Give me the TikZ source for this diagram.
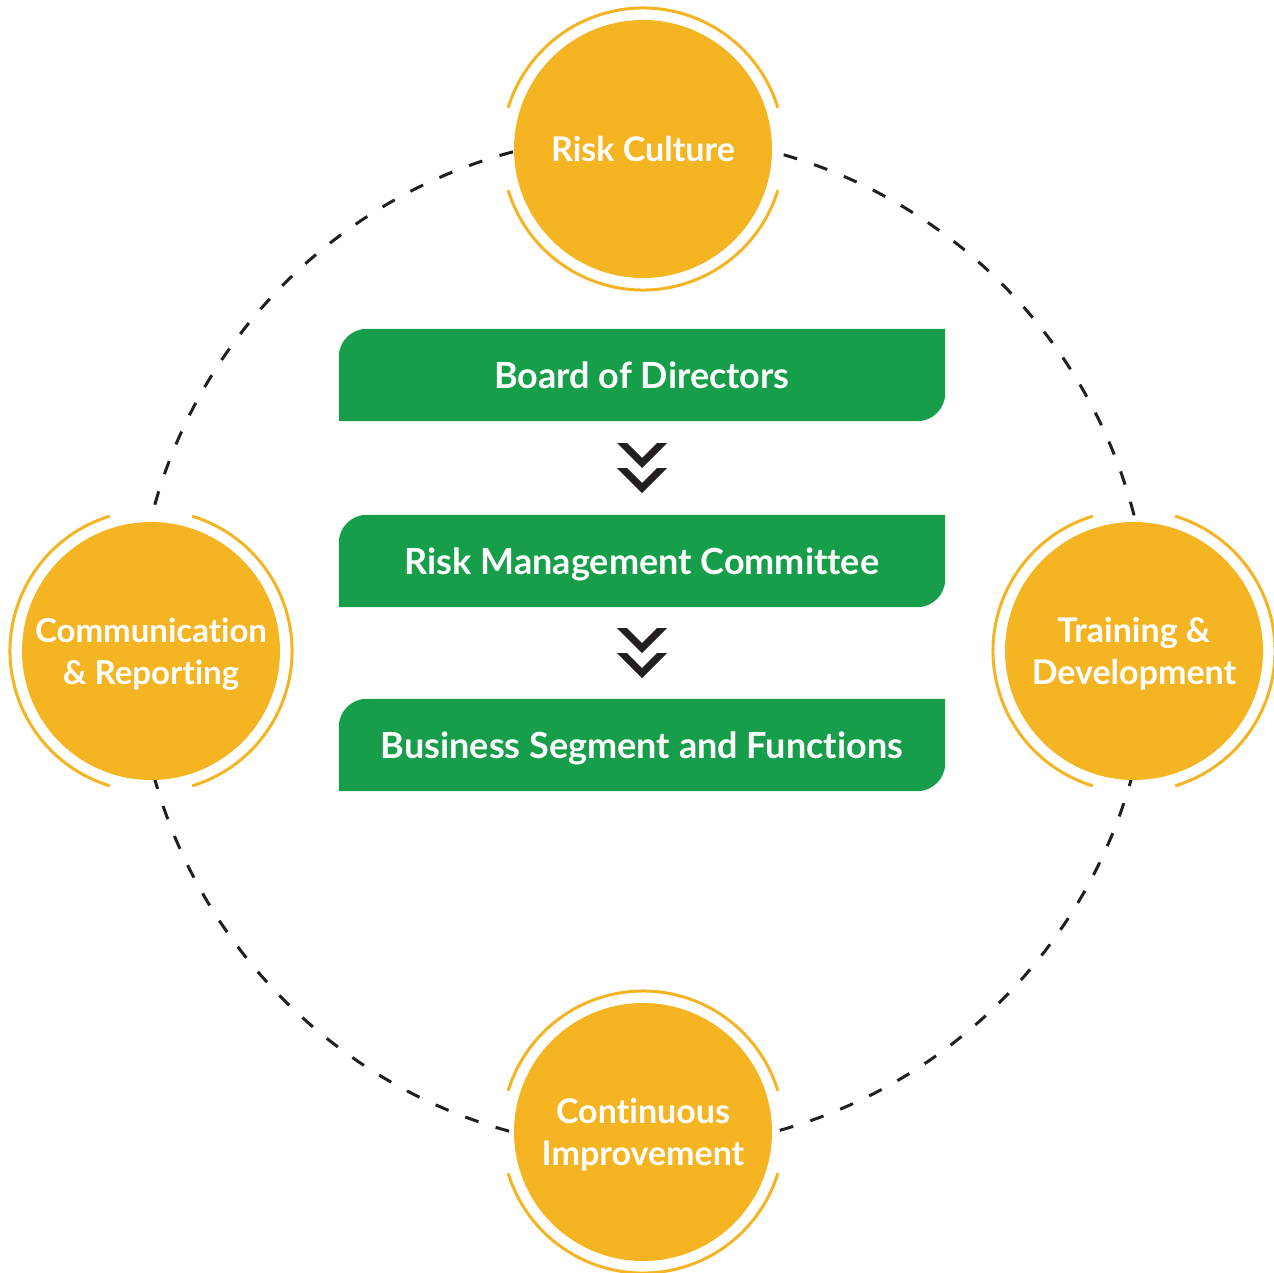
\documentclass[tikz,border=0pt]{standalone}
\usepackage{fontspec}
\setmainfont{Lato}[Ligatures=NoCommon]
\usetikzlibrary{backgrounds}
\definecolor{yel}{HTML}{F5B523}
\definecolor{grn}{HTML}{179E4A}
\definecolor{ink}{HTML}{231F20}
\newcommand{\ringarcs}[2]{%
  \draw[ringline] (#1.center) ++(#2+17:141pt) arc[start angle=#2+17, end angle=#2+163, radius=141pt];
  \draw[ringline] (#1.center) ++(#2+197:141pt) arc[start angle=#2+197, end angle=#2+343, radius=141pt];}
\begin{document}
\begin{tikzpicture}[x=1pt,y=-1pt,
  yelcirc/.style={circle, fill=yel, minimum size=258pt, inner sep=0pt, text=white,
    font=\fontsize{34}{42}\selectfont\bfseries, align=center},
  oneline/.style={text height=25pt, text depth=0pt},
  twoline/.style={text height=67pt, text depth=0pt},
  ringline/.style={draw=yel, line width=3pt},
  dashring/.style={draw=ink, line width=3pt, dash pattern=on 14pt off 18pt},
  gbox/.style={minimum width=606pt, minimum height=92pt, inner sep=0pt, text=white,
    font=\fontsize{36}{42}\selectfont\bfseries, text height=26pt, text depth=0pt},
  chev/.style={fill=ink}]
\useasboundingbox (0,0) rectangle (1274,1272);
\coordinate (hub) at (643,642);
\draw[dashring] (hub) circle[radius=507pt];

\node[yelcirc, oneline] (rc) at (643,149) {Risk Culture};
\node[yelcirc, twoline, font=\fontsize{33}{42}\selectfont\bfseries] (cr) at (151,651) {Communication\\\& Reporting};
\node[yelcirc, twoline] (td) at (1134,651) {Training \&\\Development};
\node[yelcirc, twoline] (ci) at (643,1132) {Continuous\\Improvement};
\ringarcs{rc}{0}
\ringarcs{ci}{0}
\ringarcs{cr}{90}
\ringarcs{td}{90}

\node[gbox] (bod) at (642,375) {Board of Directors};
\node[gbox] (rmc) at (642,561) {Risk Management Committee};
\node[gbox] (bsf) at (642,745) {Business Segment and Functions};
\begin{scope}[on background layer]
\fill[white] (0,0) rectangle (1274,1272);
\foreach \n in {bod,rmc,bsf}{
  \fill[grn] (\n.south west) -- ([yshift=-28pt]\n.north west)
    arc[start angle=180, end angle=90, radius=28pt] -- (\n.north east)
    -- ([yshift=28pt]\n.south east) arc[start angle=0, end angle=-90, radius=28pt] -- cycle;}
\end{scope}

\path (bod.south) -- (rmc.north) coordinate[midway] (c1);
\path (rmc.south) -- (bsf.north) coordinate[midway] (c2);
\foreach \c in {c1,c2}{
  \fill[chev, shift={(\c)}] (-25,-25) -- (-15,-25) -- (0,-10) -- (15,-25) -- (25,-25) -- (0,0) -- cycle;
  \fill[chev, shift={(\c)}] (-25,0) -- (-15,0) -- (0,15) -- (15,0) -- (25,0) -- (0,25) -- cycle;}
\end{tikzpicture}
\end{document}
